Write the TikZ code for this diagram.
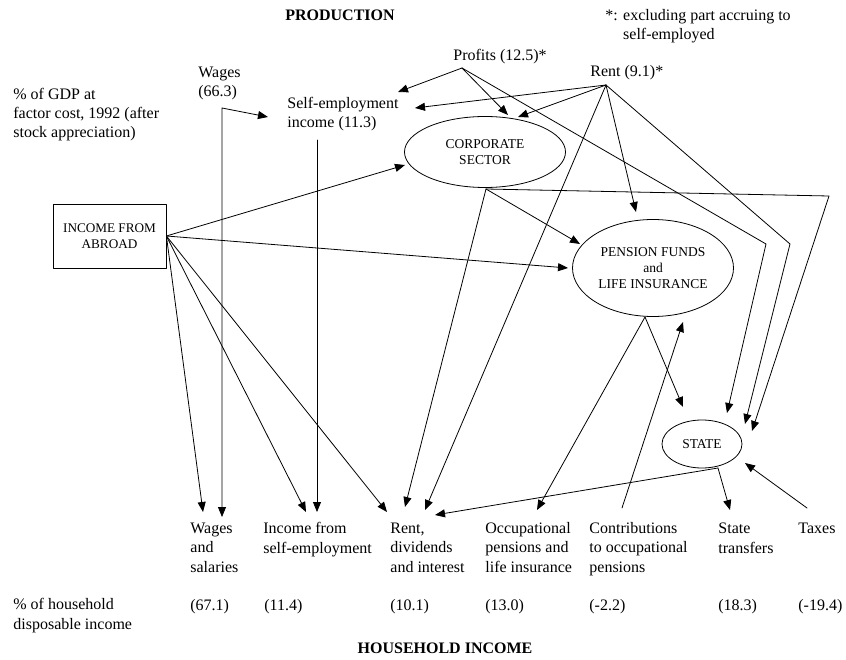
\documentclass[tikz,border=0pt]{standalone}
\usepackage{fontspec}
\setmainfont{Liberation Serif}
\usetikzlibrary{arrows.meta,shapes.geometric}
\tikzset{
  txt/.style={anchor=base west, align=left, inner sep=0pt, font=\fontsize{16}{19.3}\selectfont},
  ttl/.style={anchor=base, inner sep=0pt, font=\fontsize{16}{19}\selectfont\bfseries},
  sector/.style={draw, ellipse, align=center, inner sep=0pt, font=\fontsize{13.5}{16}\selectfont},
}
\begin{document}
\begin{tikzpicture}[x=1pt, y=-1pt, line width=0.8pt, line cap=round, line join=round, >={Triangle[length=10pt,width=8pt]}]
\useasboundingbox (0,0) rectangle (846,660);
% titles and notes (base = last line)
\node[ttl] (prod) at (340,21) {PRODUCTION};
\node[ttl] (hh) at (445,653) {HOUSEHOLD INCOME};
\node[txt] (note) at (605,40) {*: excluding part accruing to\\\phantom{*: }self-employed};
\node[txt] (gdp) at (13,138) {\% of GDP at\\factor cost, 1992 (after\\stock appreciation)};
\node[txt] (hhnote) at (13,629) {\% of household\\disposable income};
% factor incomes
\node[txt] (profits) at (453,61) {Profits (12.5)*};
\node[txt] (rent) at (590,77) {Rent (9.1)*};
\node[txt] (wages) at (198,97) {Wages\\(66.3)};
\node[txt] (selfemp) at (287,128) {Self-employment\\income (11.3)};
% sectors
\node[draw, minimum width=113, minimum height=64, inner sep=0pt, align=center, font=\fontsize{13.2}{16}\selectfont] (abroad) at (109.5,236) {INCOME FROM\\ABROAD};
\node[sector, minimum width=161, minimum height=71] (corp) at (485,152) {CORPORATE\\SECTOR};
\node[sector, minimum width=161, minimum height=97] (pension) at (653,268) {PENSION FUNDS\\and\\LIFE INSURANCE};
\node[sector, minimum width=80, minimum height=48] (state) at (702,444) {STATE};
% household income
\node[txt] (hwages) at (190,572) {Wages\\and\\salaries};
\node[txt] (hincome) at (263,553) {Income from\\self-employment};
\node[txt] (hrent) at (390,572) {Rent,\\dividends\\and interest};
\node[txt] (hocc) at (485,572) {Occupational\\pensions and\\life insurance};
\node[txt] (hcontr) at (589,572) {Contributions\\to occupational\\pensions};
\node[txt] (htransf) at (718,553) {State\\transfers};
\node[txt] (htaxes) at (798,533) {Taxes};
\foreach \x/\v [count=\i] in {190/(67.1), 264/(11.4), 390/(10.1), 485/(13.0), 589/(-2.2), 718/(18.3), 798/(-19.4)}
  \node[txt] (val\i) at (\x,610) {\v};
% connector points
\coordinate (p0) at (462,68);
\coordinate (r0) at (606,85);
\coordinate (w0) at (222,108);
\coordinate (s0) at (317,140);
\coordinate (c0) at (486,189);
\coordinate (pf0) at (645,317);
\coordinate (st0) at (718,468);
\coordinate (cn0) at (622,508);
\coordinate (tx0) at (807,508);
\coordinate (pc) at (766,244);
\coordinate (rc) at (790,244);
\coordinate (cc) at (829,196);
% arrow tips
\coordinate (se1) at (398,92);
\coordinate (se2) at (415,108);
\coordinate (se3) at (268,117);
\coordinate (ct1) at (508,115);
\coordinate (ct2) at (518,117);
\coordinate (ct3) at (405,165);
\coordinate (pt1) at (636,212);
\coordinate (pt2) at (683,322);
\coordinate (pt3) at (568,268);
\coordinate (pt4) at (580,244);
\coordinate (sa) at (727,413);
\coordinate (sb) at (745,424);
\coordinate (sc) at (752,431);
\coordinate (sd) at (683,407);
\coordinate (st1) at (745,463);
\coordinate (hw1) at (203,512);
\coordinate (hw2) at (222,517);
\coordinate (hi1) at (306,512);
\coordinate (hi2) at (317,512);
\coordinate (hr1) at (387,512);
\coordinate (hr2) at (405,507);
\coordinate (hr3) at (425,510);
\coordinate (hr4) at (435,515);
\coordinate (ho) at (537,510);
\coordinate (ht) at (730,510);
% profits and rent
\draw[->] (p0) -- (se1);
\draw[->] (p0) -- (ct1);
\draw[->] (p0) -- (pc) -- (sa);
\draw[->] (r0) -- (se2);
\draw[->] (r0) -- (ct2);
\draw[->] (r0) -- (pt1);
\draw[->] (r0) -- (hr3);
\draw[->] (r0) -- (rc) -- (sb);
% wages and self-employment
\draw[<->] (se3) -- (w0) -- (hw2);
\draw[->] (s0) -- (hi2);
% income from abroad
\draw[->] (abroad.east) -- (ct3);
\draw[->] (abroad.east) -- (pt3);
\draw[->] (abroad.east) -- (hw1);
\draw[->] (abroad.east) -- (hi1);
\draw[->] (abroad.east) -- (hr1);
% corporate sector
\draw[->] (c0) -- (hr2);
\draw[->] (c0) -- (pt4);
\draw[->] (c0) -- (cc) -- (sc);
% pension funds
\draw[->] (pf0) -- (ho);
\draw[->] (pf0) -- (sd);
\draw[->] (cn0) -- (pt2);
% state
\draw[->] (st0) -- (hr4);
\draw[->] (st0) -- (ht);
\draw[->] (tx0) -- (st1);
\end{tikzpicture}
\end{document}
